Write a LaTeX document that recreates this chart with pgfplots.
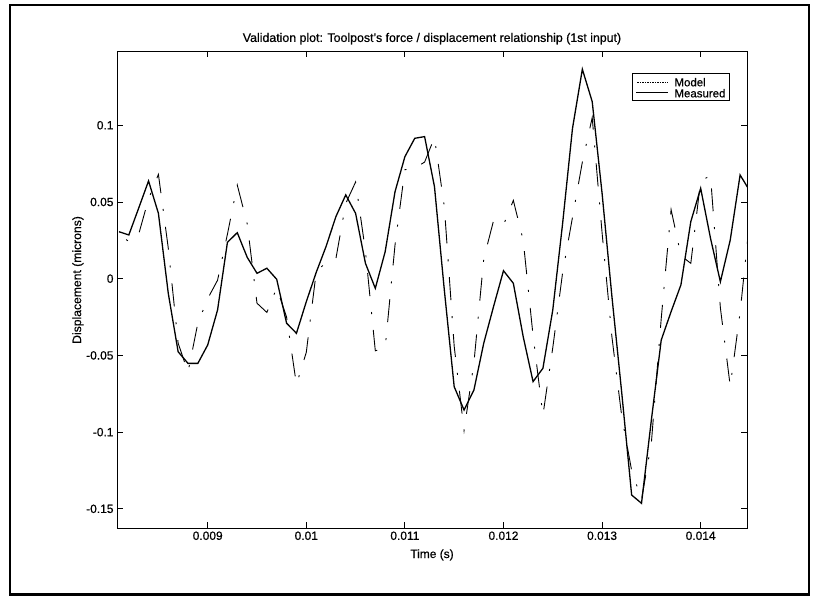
\documentclass[border=0pt]{standalone}
\usepackage{fontspec}
\setmainfont{Liberation Sans}[FakeBold=0.6]
\usepackage{pgfplots}
\pgfplotsset{compat=1.18}
\usepackage{pgfplotstable}

% Toolpost displacement (microns) against time (s), first input
\pgfplotstableread{
t        y
0.0081   0.030
0.0082   0.024
0.0083   0.029
0.0084   0.052
0.0085   0.068
0.0086   0.020
0.0087  -0.042
0.0088  -0.061
0.0089  -0.029
0.0090  -0.013
0.0091  -0.001
0.0092   0.029
0.0093   0.061
0.0094   0.036
0.0095  -0.016
0.0096  -0.022
0.0097  -0.006
0.0098  -0.025
0.0099  -0.069
0.0100  -0.048
0.0101   0.004
0.0102   0.011
0.0103   0.013
0.0104   0.049
0.0105   0.063
0.0106   0.018
0.0107  -0.047
0.0108  -0.045
0.0109   0.022
0.0110   0.071
0.0111   0.072
0.0112   0.076
0.0113   0.092
0.0114   0.047
0.0115  -0.044
0.0116  -0.099
0.0117  -0.055
0.0118   0.013
0.0119   0.038
0.0120   0.035
0.0121   0.051
0.0122   0.025
0.0123  -0.037
0.0124  -0.089
0.0125  -0.045
0.0126   0.004
0.0127   0.040
0.0128   0.076
0.0129   0.105
0.0130   0.030
0.0131  -0.038
0.0132  -0.090
0.0133  -0.125
0.0134  -0.144
0.0135  -0.107
0.0136  -0.026
0.0137   0.045
0.0138   0.015
0.0139   0.010
0.0140   0.064
0.0141   0.067
0.0142  -0.019
0.0143  -0.070
0.0144  -0.022
0.0145   0.040
}\modeldata

\pgfplotstableread{
t        y
0.0081   0.0306
0.0082   0.0285
0.0083   0.0460
0.0084   0.0637
0.0085   0.0426
0.0086  -0.0095
0.0087  -0.0476
0.0088  -0.0552
0.0089  -0.0552
0.0090  -0.0432
0.0091  -0.0204
0.0092   0.0237
0.0093   0.0300
0.0094   0.0140
0.0095   0.0035
0.0096   0.0068
0.0097  -0.0004
0.0098  -0.0290
0.0099  -0.0356
0.0100  -0.0150
0.0101   0.0040
0.0102   0.0209
0.0103   0.0404
0.0104   0.0546
0.0105   0.0426
0.0106   0.0100
0.0107  -0.0063
0.0108   0.0176
0.0109   0.0567
0.0110   0.0795
0.0111   0.0915
0.0112   0.0926
0.0113   0.0600
0.0114  -0.0074
0.0115  -0.0704
0.0116  -0.0856
0.0117  -0.0726
0.0118  -0.0420
0.0119  -0.0180
0.0120   0.0052
0.0121  -0.0030
0.0122  -0.0378
0.0123  -0.0671
0.0124  -0.0584
0.0125  -0.0204
0.0126   0.0361
0.0127   0.0980
0.0128   0.1365
0.0129   0.1154
0.0130   0.0557
0.0131  -0.0117
0.0132  -0.0747
0.0133  -0.1410
0.0134  -0.1464
0.0135  -0.0921
0.0136  -0.0400
0.0137  -0.0215
0.0138  -0.0040
0.0139   0.0372
0.0140   0.0589
0.0141   0.0263
0.0142  -0.0020
0.0143   0.0252
0.0144   0.0676
0.0145   0.0570
}\measureddata

\begin{document}
\begin{tikzpicture}
\begin{axis}[
  name=ax, at={(0,0)}, anchor=south west,
  scale only axis, width=630bp, height=477bp,
  xmin=0.00808, xmax=0.01447,
  ymin=-0.1625, ymax=0.1484,
  scaled x ticks=false, scaled y ticks=false,
  axis line style={line width=0.9bp},
  tick align=inside, major tick length=6bp,
  tick style={black, line width=0.8bp},
  xtick={0.009,0.010,0.011,0.012,0.013,0.014},
  xticklabels={0.009,0.01,0.011,0.012,0.013,0.014},
  ytick={-0.15,-0.1,-0.05,0,0.05,0.1},
  yticklabels={-0.15,-0.1,-0.05,0,0.05,0.1},
  ticklabel style={font=\fontsize{12}{14}\selectfont},
  title={Validation plot: Toolpost's force / displacement relationship (1st input)},
  title style={at={(axis description cs:0.5,1.0065)}, anchor=base, font=\fontsize{12.4}{14}\selectfont},
  xlabel={Time (s)},
  xlabel style={at={(axis description cs:0.5,-0.0629)}, anchor=base, font=\fontsize{12}{14}\selectfont},
  ylabel={Displacement (microns)},
  ylabel style={at={(axis description cs:-0.062,0.52)}, anchor=center, font=\fontsize{12.2}{14}\selectfont},
  legend image code/.code={\draw[#1] (0bp,0bp) -- (32bp,0bp);},
  legend cell align=left,
  legend style={at={(axis description cs:0.972,0.953)}, anchor=north east,
    draw=black, line width=0.8bp, inner sep=3bp, row sep=1bp, column sep=5bp,
    font=\fontsize{11.5}{12}\selectfont,
    nodes={inner sep=0.5bp, text height=9bp, text depth=0bp}},
]
\addplot[black, line width=0.9bp, dash pattern=on 23bp off 16bp on 2bp off 16bp, dash phase=29bp,
  legend image post style={dash pattern=on 1.5bp off 1bp, line width=0.6bp}]
  table[x=t, y=y] {\modeldata};
\addlegendentry{Model}
\addplot[black, line width=1.3bp] table[x=t, y=y] {\measureddata};
\addlegendentry{Measured}
\end{axis}
% page extent and the surrounding frame
\path ([shift={(-117bp,-68bp)}]ax.south west) rectangle ([shift={(70bp,51bp)}]ax.north east);
\draw[line width=2.5bp] ([shift={(-107bp,-66.5bp)}]ax.south west) rectangle ([shift={(62bp,46bp)}]ax.north east);
\end{tikzpicture}
\end{document}
